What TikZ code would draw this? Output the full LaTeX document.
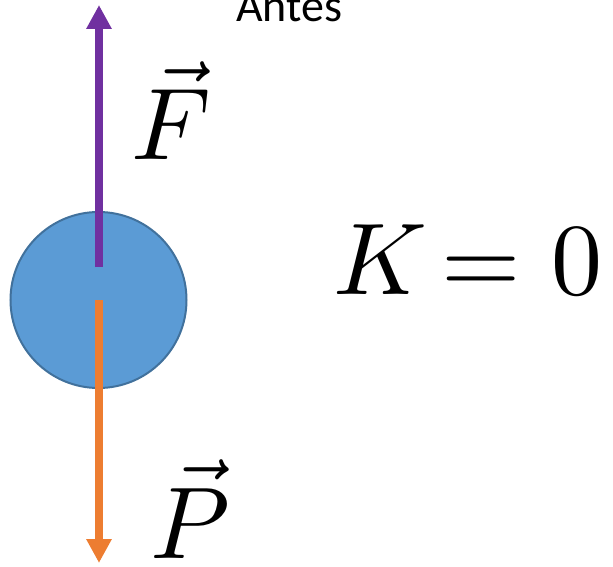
\documentclass[tikz,border=0pt]{standalone}
\usepackage{fontspec}
\newfontfamily\calfont{Carlito}
\usetikzlibrary{arrows.meta}
\definecolor{fpurple}{HTML}{7030A0}
\definecolor{porange}{HTML}{ED7D31}
\definecolor{ballfill}{HTML}{5B9BD5}
\definecolor{ballline}{HTML}{41719C}
\tikzset{
  force/.style={line width=8pt, -{Triangle[width=24pt,length=24pt]}},
  bigmath/.style={inner sep=0pt, anchor=base west},
}
\newcommand{\hugemathtxt}[1]{\scalebox{10.2}{$#1$}}
\begin{document}
\begin{tikzpicture}[x=1pt,y=1pt]
\useasboundingbox (0,0) rectangle (613,566);
\node[circle, draw=ballline, line width=2pt, fill=ballfill, minimum size=176pt, inner sep=0pt] (ball) at (98.5,266) {};
\coordinate (ftail) at (99,299);
\coordinate (ftip) at (99,561);
\coordinate (ptail) at (99,266);
\coordinate (ptip) at (99,3);
\draw[force, draw=fpurple, fill=fpurple] (ftail) -- (ftip);
\draw[force, draw=porange, fill=porange] (ptail) -- (ptip);
\node[inner sep=0pt, anchor=base west, font=\calfont\fontsize{46}{46}\selectfont] (antes) at (236,544) {Antes};
\node[bigmath] (F) at (131,406) {\hugemathtxt{\vec{F}}};
\node[bigmath] (P) at (150,8) {\hugemathtxt{\vec{P}}};
\node[bigmath] (K) at (333,271) {\hugemathtxt{K}};
\node[bigmath] (eq) at (441,271) {\hugemathtxt{=}};
\node[bigmath] (zero) at (551,271) {\hugemathtxt{0}};
\end{tikzpicture}
\end{document}
